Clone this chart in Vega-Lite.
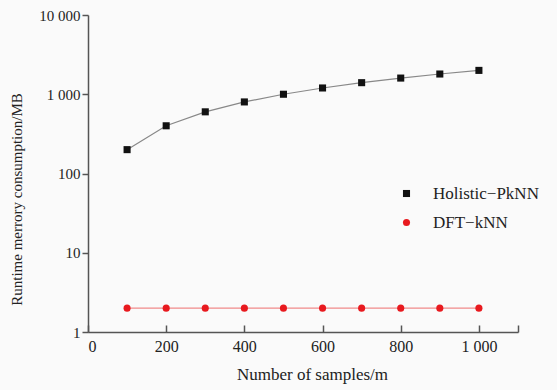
{
  "$schema": "https://vega.github.io/schema/vega-lite/v6.json",
  "autosize": "none",
  "padding": {"left": 88, "top": 15, "right": 39, "bottom": 58},
  "width": 430,
  "height": 317,
  "background": "#fafafa",
  "config": {
    "view": {"stroke": null},
    "font": "Liberation Serif",
    "text": {"font": "Liberation Serif"},
    "axis": {"labelFont": "Liberation Serif", "titleFont": "Liberation Serif", "labelColor": "#222", "titleColor": "#222", "titleFontWeight": "normal", "grid": false, "domainColor": "#555", "tickColor": "#555", "domainWidth": 1.5, "tickWidth": 1.5},
    "legend": {"labelFont": "Liberation Serif"}
  },
  "data": {
    "values": [
      {"n": 100, "mb": 200, "method": "Holistic−PkNN"},
      {"n": 200, "mb": 400, "method": "Holistic−PkNN"},
      {"n": 300, "mb": 600, "method": "Holistic−PkNN"},
      {"n": 400, "mb": 800, "method": "Holistic−PkNN"},
      {"n": 500, "mb": 1000, "method": "Holistic−PkNN"},
      {"n": 600, "mb": 1200, "method": "Holistic−PkNN"},
      {"n": 700, "mb": 1400, "method": "Holistic−PkNN"},
      {"n": 800, "mb": 1600, "method": "Holistic−PkNN"},
      {"n": 900, "mb": 1800, "method": "Holistic−PkNN"},
      {"n": 1000, "mb": 2000, "method": "Holistic−PkNN"},
      {"n": 100, "mb": 2, "method": "DFT−kNN"},
      {"n": 200, "mb": 2, "method": "DFT−kNN"},
      {"n": 300, "mb": 2, "method": "DFT−kNN"},
      {"n": 400, "mb": 2, "method": "DFT−kNN"},
      {"n": 500, "mb": 2, "method": "DFT−kNN"},
      {"n": 600, "mb": 2, "method": "DFT−kNN"},
      {"n": 700, "mb": 2, "method": "DFT−kNN"},
      {"n": 800, "mb": 2, "method": "DFT−kNN"},
      {"n": 900, "mb": 2, "method": "DFT−kNN"},
      {"n": 1000, "mb": 2, "method": "DFT−kNN"}
    ]
  },
  "encoding": {
    "x": {"field": "n", "type": "quantitative", "scale": {"domain": [0, 1100], "nice": false}, "axis": {"values": [0, 200, 400, 600, 800, 1000, 1100], "labelExpr": "datum.value > 1000 ? '' : replace(format(datum.value, ','), ',', ' ')", "tickSize": -7, "labelPadding": 13, "labelFontSize": 16, "title": "Number of samples/m", "titleFontSize": 17, "titleX": 224, "titlePadding": 12}},
    "y": {"field": "mb", "type": "quantitative", "scale": {"type": "log", "domain": [1, 10000], "nice": false}, "axis": {"values": [1, 10, 100, 1000, 10000], "labelExpr": "replace(format(datum.value, ','), ',', ' ')", "tickSize": 6, "labelPadding": 2, "labelFontSize": 15, "title": "Runtime merrory consumption/MB", "titleFontSize": 15, "titleY": 184, "titlePadding": 14}}
  },
  "layer": [
    {
      "mark": {"type": "line", "strokeWidth": 1.2},
      "encoding": {
        "detail": {"field": "method"},
        "stroke": {"condition": {"test": "datum.method == 'DFT−kNN'", "value": "#f08a8a"}, "value": "#888888"}
      }
    },
    {
      "mark": {"type": "point", "filled": true, "opacity": 1, "size": 50},
      "encoding": {
        "color": {"field": "method", "type": "nominal", "scale": {"domain": ["Holistic−PkNN", "DFT−kNN"], "range": ["#111111", "#e8191e"]}, "legend": {"title": null, "orient": "none", "legendX": 310, "legendY": 170, "labelFontSize": 17, "labelColor": "#222", "labelOffset": 18, "rowPadding": 11, "symbolSize": 50}},
        "shape": {"field": "method", "type": "nominal", "scale": {"domain": ["Holistic−PkNN", "DFT−kNN"], "range": ["square", "circle"]}, "legend": {"title": null, "orient": "none", "legendX": 310, "legendY": 170, "labelFontSize": 17, "labelColor": "#222", "labelOffset": 18, "rowPadding": 11, "symbolSize": 50}}
      }
    }
  ]
}
